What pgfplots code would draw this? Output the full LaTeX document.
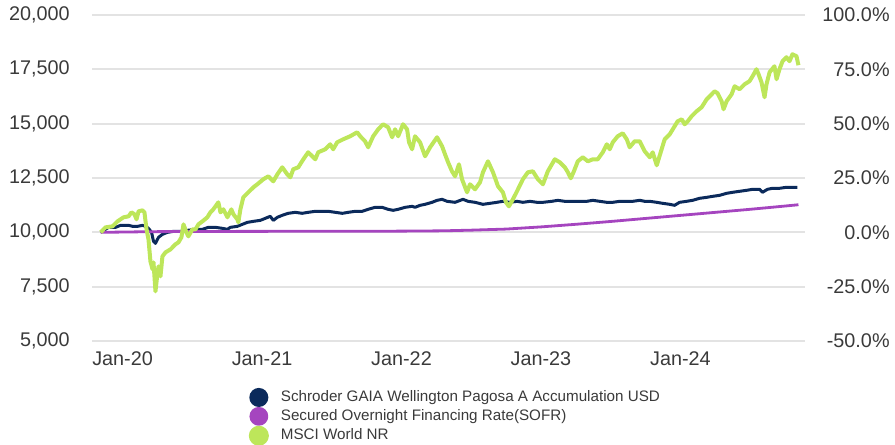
\documentclass[border=0pt]{standalone}
\usepackage{fontspec}
\setmainfont{Liberation Sans}
\usepackage{pgfplots}
\pgfplotsset{compat=1.18}
\definecolor{navyc}{HTML}{0B2A5B}
\definecolor{purplec}{HTML}{A545BF}
\definecolor{greenc}{HTML}{BDE65A}
\definecolor{gridc}{HTML}{E3E3E3}
\definecolor{txt}{HTML}{3A3A3A}
\begin{document}
\begin{tikzpicture}
\pgfplotsset{
  base/.style={
    scale only axis, width=356.5pt, height=163pt,
    xmin=2019.781, xmax=2024.893,
    axis line style={draw=none}, major tick length=0pt,
    tick label style={font=\fontsize{9.9}{11}\selectfont, text=txt},
    /pgf/number format/assume math mode=true,
    at={(0,0)}, anchor=south west,
  }
}
\begin{axis}[base, name=main,
  ymin=5000, ymax=20000, ytick={5000,7500,...,20000},
  scaled y ticks=false,
  ymajorgrids, grid style={gridc, line width=1pt},
  xtick={2020,2021,2022,2023,2024},
  xticklabels={Jan-20,Jan-21,Jan-22,Jan-23,Jan-24},
  yticklabel style={anchor=east, inner sep=0pt, xshift=-11pt,
    /pgf/number format/fixed, /pgf/number format/1000 sep={,}},
  xticklabel style={anchor=north, inner sep=0pt, yshift=-5pt},
  legend style={at={(0.220,-0.144)}, anchor=north west, draw=none, fill=none,
    inner sep=0pt, outer sep=0pt, font=\fontsize{7.6}{9}\selectfont, text=txt,
    row sep=0pt, nodes={inner sep=0pt, text height=5.6pt, text depth=1.4pt},
    /tikz/every odd column/.style={column sep=6pt}},
  legend cell align=left,
  legend image code/.code={\fill[#1] (4pt,0pt) circle (4pt);},
  line join=round,
]
\addplot[color=navyc, line width=1.5pt] coordinates {
(2019.843,10000)(2019.900,10230)(2019.950,10230)(2019.986,10322)(2020.043,10322)
(2020.072,10276)(2020.107,10276)(2020.143,10322)(2020.165,10276)(2020.186,10184)
(2020.208,10000)(2020.222,9586)(2020.236,9494)(2020.258,9770)(2020.286,9908)
(2020.322,10000)(2020.365,10046)(2020.415,10046)(2020.465,10092)(2020.523,10138)
(2020.573,10138)(2020.616,10230)(2020.666,10230)(2020.716,10184)(2020.752,10138)
(2020.773,10230)(2020.823,10276)(2020.859,10368)(2020.895,10460)(2020.938,10506)
(2020.988,10552)(2021.024,10645)(2021.059,10737)(2021.081,10552)(2021.110,10691)
(2021.145,10783)(2021.188,10875)(2021.238,10921)(2021.288,10875)(2021.331,10921)
(2021.382,10967)(2021.432,10967)(2021.475,10967)(2021.525,10921)(2021.575,10875)
(2021.618,10921)(2021.668,10967)(2021.718,10967)(2021.761,11059)(2021.811,11151)
(2021.861,11151)(2021.904,11059)(2021.940,11013)(2021.976,11059)(2022.026,11151)
(2022.076,11197)(2022.097,11151)(2022.133,11243)(2022.169,11289)(2022.219,11381)
(2022.255,11473)(2022.291,11519)(2022.327,11427)(2022.384,11381)(2022.441,11519)
(2022.477,11427)(2022.527,11381)(2022.584,11289)(2022.634,11335)(2022.684,11381)
(2022.727,11427)(2022.777,11381)(2022.828,11427)(2022.870,11381)(2022.921,11427)
(2022.971,11381)(2023.014,11381)(2023.078,11427)(2023.121,11473)(2023.171,11427)
(2023.228,11427)(2023.279,11427)(2023.329,11427)(2023.372,11473)(2023.422,11427)
(2023.472,11381)(2023.515,11381)(2023.565,11427)(2023.615,11427)(2023.658,11427)
(2023.708,11473)(2023.744,11427)(2023.780,11427)(2023.830,11381)(2023.873,11335)
(2023.923,11289)(2023.958,11243)(2023.994,11381)(2024.044,11427)(2024.087,11473)
(2024.137,11565)(2024.188,11611)(2024.231,11657)(2024.281,11703)(2024.331,11796)
(2024.374,11842)(2024.424,11888)(2024.474,11934)(2024.517,11980)(2024.567,11980)
(2024.588,11842)(2024.624,11980)(2024.660,12026)(2024.710,12026)(2024.760,12072)
(2024.803,12072)(2024.839,12072)
};
\addlegendentry{Schroder GAIA Wellington Pagosa A Accumulation USD}
\addplot[color=purplec, line width=1.4pt] coordinates {
(2019.843,10000)(2020.2,10030)(2020.5,10040)(2021.0,10045)(2021.5,10050)
(2022.0,10055)(2022.3,10070)(2022.5,10100)(2022.75,10150)(2023.0,10250)
(2023.25,10370)(2023.5,10500)(2023.75,10640)(2024.0,10780)(2024.25,10920)
(2024.5,11060)(2024.75,11210)(2024.846,11270)
};
\addlegendentry{Secured Overnight Financing Rate(SOFR)}
\addplot[color=greenc, line width=2pt] coordinates {
(2019.843,10000)(2019.878,10230)(2019.928,10276)(2019.964,10506)(2020.007,10691)
(2020.043,10737)(2020.064,10921)(2020.086,10829)(2020.100,10599)(2020.115,10967)
(2020.143,11013)(2020.157,10921)(2020.172,10138)(2020.186,9678)(2020.200,8665)
(2020.215,8297)(2020.222,8619)(2020.236,7284)(2020.251,8158)(2020.258,8435)
(2020.272,7974)(2020.286,8895)(2020.308,9079)(2020.344,9217)(2020.379,9448)
(2020.401,9540)(2020.422,9770)(2020.437,10368)(2020.458,10000)(2020.472,9816)
(2020.501,10138)(2020.523,10138)(2020.544,10368)(2020.573,10506)(2020.608,10691)
(2020.630,10921)(2020.651,11059)(2020.687,11381)(2020.702,10921)(2020.723,11059)
(2020.752,10691)(2020.780,11059)(2020.795,10829)(2020.823,10599)(2020.830,10460)
(2020.845,11059)(2020.866,11611)(2020.902,11842)(2020.938,12072)(2020.966,12210)
(2021.009,12440)(2021.045,12578)(2021.081,12348)(2021.110,12670)(2021.145,12993)
(2021.181,12670)(2021.203,12532)(2021.224,12901)(2021.260,12993)(2021.296,13361)
(2021.331,13683)(2021.360,13499)(2021.382,13361)(2021.403,13683)(2021.453,13821)
(2021.489,14052)(2021.510,13821)(2021.539,14144)(2021.582,14282)(2021.632,14420)
(2021.682,14604)(2021.704,14420)(2021.739,14190)(2021.761,13913)(2021.797,14420)
(2021.833,14742)(2021.868,14972)(2021.904,14834)(2021.933,14374)(2021.954,14742)
(2021.976,14420)(2022.011,14972)(2022.040,14742)(2022.054,14144)(2022.076,13821)
(2022.097,14420)(2022.133,14144)(2022.169,13499)(2022.205,13913)(2022.255,14374)
(2022.291,13959)(2022.312,13591)(2022.334,13223)(2022.362,12808)(2022.384,12578)
(2022.412,13131)(2022.434,12440)(2022.470,11842)(2022.491,12210)(2022.527,11980)
(2022.563,12302)(2022.584,12762)(2022.620,13269)(2022.656,12762)(2022.692,12118)
(2022.727,11842)(2022.749,11381)(2022.770,11197)(2022.799,11519)(2022.835,11980)
(2022.870,12440)(2022.906,12762)(2022.942,12808)(2022.978,12440)(2023.014,12210)
(2023.049,12808)(2023.099,13361)(2023.135,13223)(2023.171,12993)(2023.193,12762)
(2023.214,12486)(2023.236,12808)(2023.264,13269)(2023.300,13453)(2023.336,13269)
(2023.372,13361)(2023.407,13361)(2023.443,13683)(2023.472,14052)(2023.493,13821)
(2023.515,14144)(2023.550,14420)(2023.586,14558)(2023.615,14282)(2023.636,13913)
(2023.672,14190)(2023.708,14190)(2023.744,13729)(2023.780,13453)(2023.801,13683)
(2023.830,13085)(2023.865,13821)(2023.887,14282)(2023.923,14512)(2023.958,14880)
(2023.980,15110)(2024.009,15203)(2024.030,14972)(2024.052,15110)(2024.080,15341)
(2024.116,15571)(2024.152,15755)(2024.188,16123)(2024.224,16354)(2024.245,16492)
(2024.266,16400)(2024.295,16031)(2024.309,15663)(2024.331,16031)(2024.367,16354)
(2024.388,16722)(2024.424,16584)(2024.460,16814)(2024.495,16952)(2024.517,17182)
(2024.545,17505)(2024.560,17274)(2024.581,16906)(2024.603,16215)(2024.617,16814)
(2024.639,17366)(2024.674,17643)(2024.689,17044)(2024.710,17505)(2024.732,17873)
(2024.760,18057)(2024.782,17873)(2024.803,18195)(2024.832,18103)(2024.846,17689)
};
\addlegendentry{MSCI World NR}
\end{axis}
\begin{axis}[base,
  ymin=-50, ymax=100, ytick={-50,-25,0,25,50,75,100},
  hide x axis, yticklabel pos=right,
  yticklabel={\pgfmathprintnumber[fixed,fixed zerofill,precision=1]{\tick}\%},
  yticklabel style={anchor=east, inner sep=0pt, xshift=42.5pt},
]
\end{axis}
\pgfresetboundingbox
\path ([shift={(-46pt,-51.5pt)}]main.south west) rectangle ([shift={(45pt,7.5pt)}]main.north east);
\end{tikzpicture}
\end{document}
